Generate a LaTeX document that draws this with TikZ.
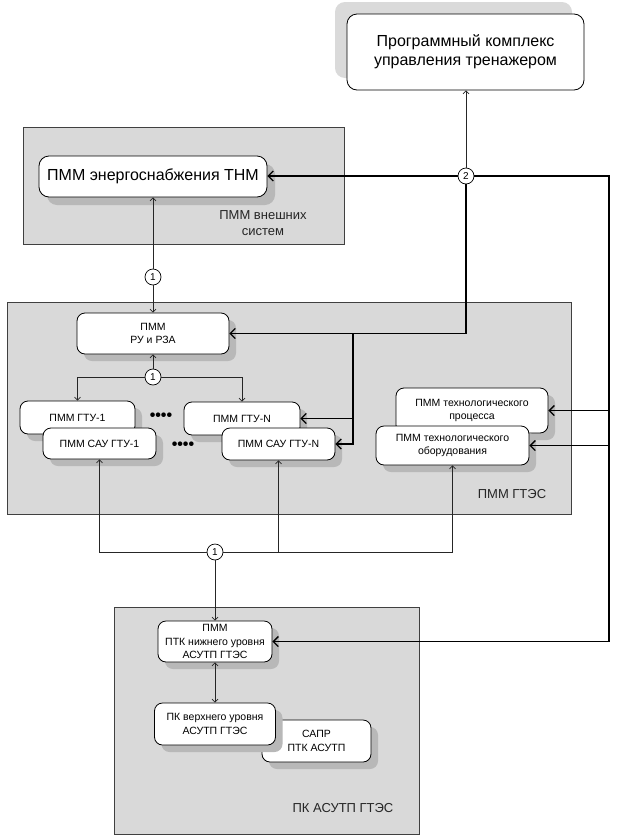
\documentclass[tikz,border=0pt]{standalone}
\usepackage{fontspec}
\setmainfont{Liberation Sans}
\usetikzlibrary{arrows.meta,shadows}
\definecolor{grpfill}{HTML}{D9D9D9}
\definecolor{grpline}{HTML}{404040}
\definecolor{shd}{HTML}{B8B8B8}
\definecolor{shdlight}{HTML}{DADADA}
\definecolor{thinc}{HTML}{262626}
\begin{document}
\begin{tikzpicture}[x=1pt,y=-1pt,
  grp/.style={fill=grpfill,draw=grpline,line width=0.9pt},
  boxbase/.style={draw=black,fill=white,line width=0.8pt,inner sep=0pt,align=center},
  box/.style={boxbase,rounded corners=8pt,font=\fontsize{10.5}{13.5}\selectfont,
    drop shadow={shadow xshift=7pt,shadow yshift=-7pt,fill=shd,opacity=1}},
  bigbox/.style={boxbase,rounded corners=10pt,font=\fontsize{16}{19}\selectfont},
  jn/.style={circle,draw=black,fill=white,line width=0.7pt,minimum size=16pt,inner sep=0pt,font=\fontsize{10}{10}\selectfont},
  lbl/.style={align=center,font=\fontsize{13}{16}\selectfont,text=black!85},
  dots/.style={font=\fontsize{16}{16}\selectfont\bfseries},
  thk/.style={line width=1.8pt,draw=black},
  thn/.style={line width=0.7pt,draw=thinc},
  arrk/.style={-{Straight Barb[length=5pt,width=10pt,line width=1.3pt]}},
  arrn/.style={-{Straight Barb[length=3pt,width=6pt]}},
  darrn/.style={{Straight Barb[length=3pt,width=6pt]}-{Straight Barb[length=3pt,width=6pt]}}
]
\useasboundingbox (0,0) rectangle (632,838);
\fill[white] (0,0) rectangle (632,838);

% groups
\draw[grp] (23,127) rectangle (344,244);
\draw[grp] (7,302) rectangle (571,514);
\draw[grp] (114,607) rectangle (419,834);

\node[lbl] (lg1) at (263,223) {ПММ внешних\\систем};
\node[lbl] (lg2) at (512,494) {ПММ ГТЭС};
\node[lbl] (lg3) at (343,808) {ПК АСУТП ГТЭС};

% boxes
\node[bigbox,minimum width=237pt,minimum height=76pt,
  drop shadow={shadow xshift=-12pt,shadow yshift=12pt,fill=shdlight,opacity=1}]
  (top) at (465.5,52) {Программный комплекс\\управления тренажером};
\node[bigbox,minimum width=228pt,minimum height=41pt,
  drop shadow={shadow xshift=8pt,shadow yshift=-8pt,fill=shd,opacity=1}]
  (energy) at (153,176.5) {ПММ энергоснабжения ТНМ};
\node[box,minimum width=152pt,minimum height=41pt] (ru) at (153,333.5) {ПММ\\РУ и РЗА};
\node[box,minimum width=115pt,minimum height=33pt] (gtu1) at (77.5,417.5) {ПММ ГТУ-1};
\node[box,minimum width=113pt,minimum height=31pt] (sau1) at (99.5,443.5) {ПММ САУ ГТУ-1};
\node[box,minimum width=116pt,minimum height=33pt] (gtuN) at (242,418.5) {ПММ ГТУ-N};
\node[box,minimum width=113pt,minimum height=32pt] (sauN) at (278.5,444) {ПММ САУ ГТУ-N};
\node[box,minimum width=152pt,minimum height=45pt] (techp) at (472,410.5) {ПММ технологического\\процесса};
\node[box,minimum width=153pt,minimum height=39pt] (teche) at (452.5,445.5) {ПММ технологического\\оборудования};
\node[box,minimum width=114pt,minimum height=41pt] (ptk) at (215,641.5) {ПММ\\ПТК нижнего уровня\\АСУТП ГТЭС};
\node[box,minimum width=109pt,minimum height=42pt] (sapr) at (316.5,741) {САПР\\ПТК АСУТП};
\node[box,minimum width=121pt,minimum height=42pt] (pk) at (215,724) {ПК верхнего уровня\\АСУТП ГТЭС};

\node[dots] (d1) at (161,417) {••••};
\node[dots] (d2) at (183,446) {••••};

% junctions
\node[jn] (c2) at (466,176) {2};
\node[jn] (c1a) at (153,277) {1};
\node[jn] (c1b) at (153,377) {1};
\node[jn] (c1c) at (215,552) {1};

\coordinate (R) at (609,176);
\coordinate (J) at (353,333.5);

% thick connectors
\draw[thk,arrk] (c2.west) -- (c2.west -| energy.east);
\draw[thk,arrk] (c2.east) -| (ptk.east -| R) -- (ptk.east);
\draw[thk,arrk] (techp.east -| R) -- (techp.east);
\draw[thk,arrk] (teche.east -| R) -- (teche.east);
\draw[thk,arrk] (c2.south) |- (ru.east);
\draw[thk,arrk] (J) |- (gtuN.east);
\draw[thk,arrk] (J) |- (sauN.east);

% thin connectors
\draw[thn,arrn] (c2.north) -- (c2.north |- top.south);
\draw[thn,arrn] (c1a.north) -- (c1a.north |- energy.south);
\draw[thn,arrn] (c1a.south) -- (c1a.south |- ru.north);
\draw[thn,arrn] (c1b.north) -- (c1b.north |- ru.south);
\draw[thn,arrn] (c1b.west) -| (gtu1.north);
\draw[thn,arrn] (c1b.east) -| (gtuN.north);
\draw[thn,arrn] (c1c.west) -| (sau1.south);
\draw[thn,arrn] (c1c.east) -| (sauN.south);
\draw[thn,arrn] (c1c.east) -| (teche.south);
\draw[thn,arrn] (c1c.south) -- (ptk.north);
\draw[thn,darrn] (ptk.south) -- (pk.north);
\end{tikzpicture}
\end{document}
